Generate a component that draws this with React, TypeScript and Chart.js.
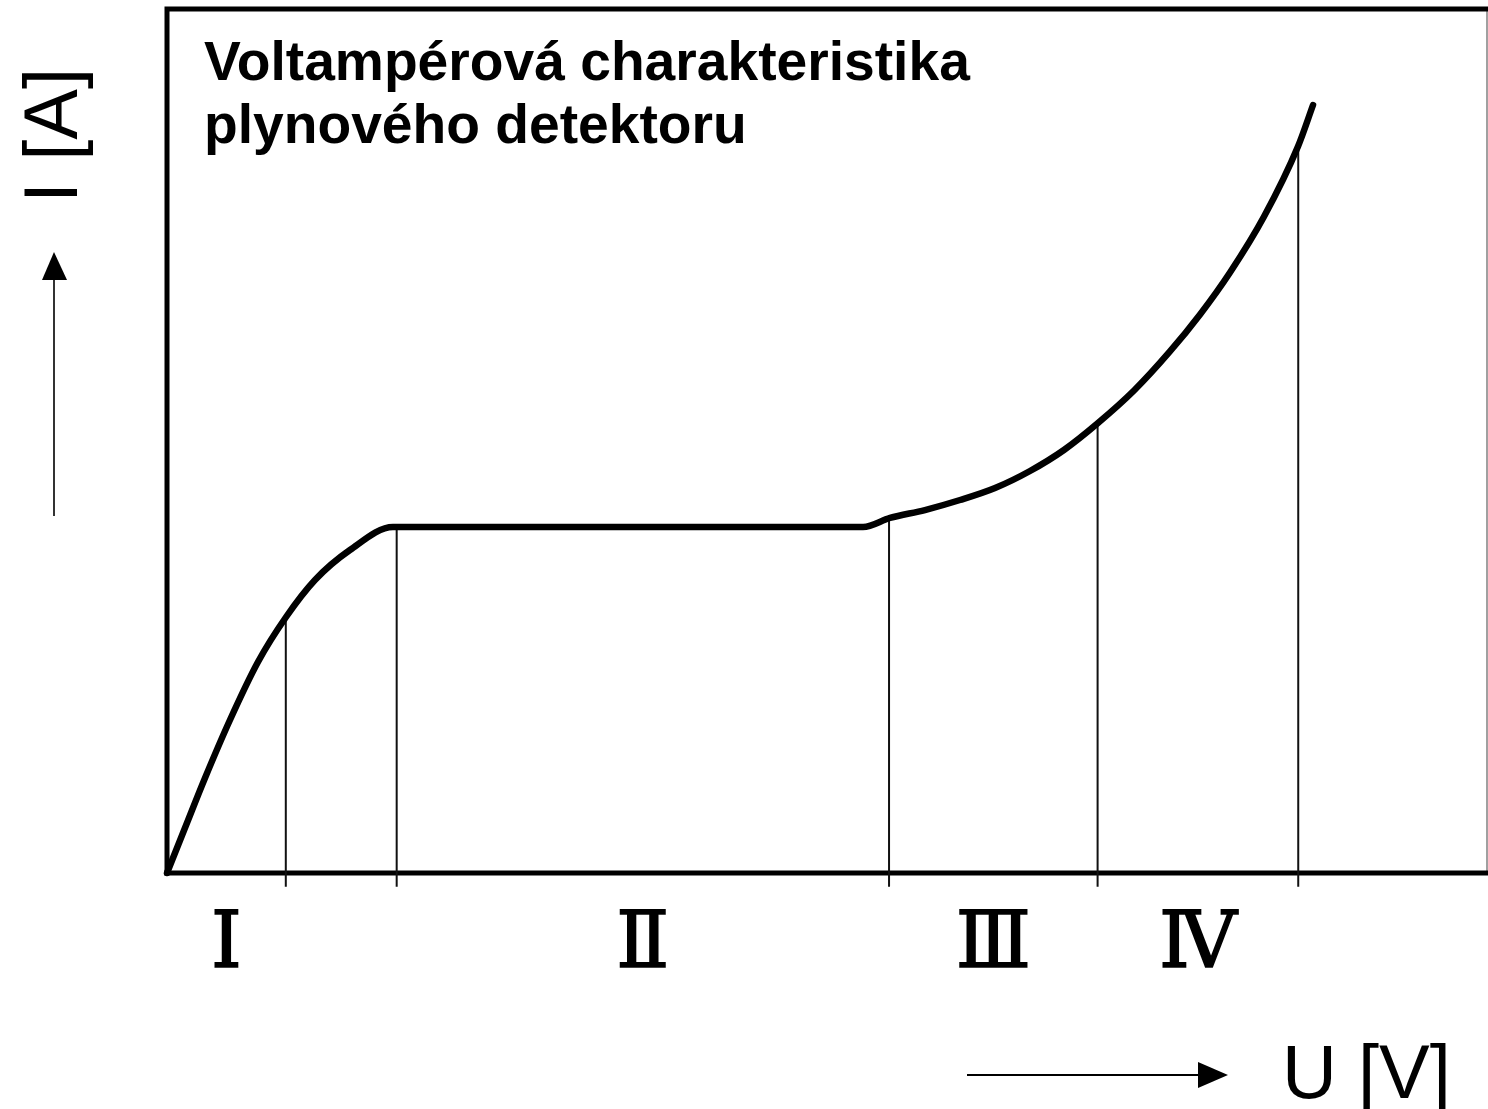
import React, { useEffect, useRef } from "react";
import { Chart, registerables } from "chart.js";

Chart.register(...registerables);

// Characteristic curve (arbitrary units: U 0..100, I 0..100)
const curveU = [0, 1.36, 2.88, 4.77, 6.89, 9.02, 11.21, 13.86, 17.12, 52.73, 54.77, 57.42, 60.08, 62.73, 65.38, 67.95, 70.53, 73.26, 75.98, 78.26, 80.53, 83.11, 85.68, 86.82];
const curveI = [0, 5.21, 11.0, 17.71, 24.42, 29.63, 33.91, 37.38, 40.05, 40.05, 41.09, 42.01, 43.17, 44.56, 46.53, 48.96, 52.08, 55.84, 60.36, 64.64, 69.5, 75.98, 84.09, 88.89];

// Region boundaries (vertical lines)
const boundaryU = [9.0, 17.4, 54.7, 70.5, 85.7];
const boundaryTopI = [29.6, 40.0, 41.1, 52.0, 84.0];
const boundaryBottomI = -1.6;

// Region labels
const regionNames = ["Ⅰ", "Ⅱ", "Ⅲ", "Ⅳ"];
const regionStart = [0, 17.4, 54.7, 70.5];
const regionEnd = [9.0, 54.7, 70.5, 85.7];

const titleLines = ["Voltampérová charakteristika", "plynového detektoru"];
const xAxisLabel = "U [V]";
const yAxisLabel = "I [A]";

const overlayPlugin = {
  id: "overlay",
  beforeDatasetsDraw(chart: any) {
    const { ctx, chartArea: a } = chart;
    ctx.save();
    ctx.strokeStyle = "#a0a0a0";
    ctx.lineWidth = 2;
    ctx.beginPath();
    ctx.moveTo(a.right, a.top);
    ctx.lineTo(a.right, a.bottom);
    ctx.stroke();
    ctx.strokeStyle = "#000";
    ctx.lineWidth = 5;
    ctx.lineCap = "square";
    ctx.beginPath();
    ctx.moveTo(a.left, a.bottom);
    ctx.lineTo(a.left, a.top);
    ctx.lineTo(a.right, a.top);
    ctx.stroke();
    ctx.beginPath();
    ctx.moveTo(a.left, a.bottom);
    ctx.lineTo(a.right, a.bottom);
    ctx.stroke();
    ctx.restore();
  },
  afterDraw(chart: any) {
    const { ctx, scales } = chart;
    const xs = scales.x;
    ctx.save();
    ctx.fillStyle = "#000";
    // title
    ctx.font = "bold 55.2px 'Liberation Sans', Arial, sans-serif";
    ctx.textAlign = "left";
    ctx.textBaseline = "alphabetic";
    ctx.fillText(titleLines[0], 204, 80);
    ctx.fillText(titleLines[1], 204, 143);

    // region labels
    ctx.font = "78px 'DejaVu Serif', 'Liberation Serif', serif";
    ctx.textAlign = "center";
    ctx.strokeStyle = "#000";
    ctx.lineWidth = 1.6;
    for (let i = 0; i < regionNames.length; i++) {
      const cx = xs.getPixelForValue((regionStart[i] + regionEnd[i]) / 2);
      ctx.fillText(regionNames[i], cx, 967);
      ctx.strokeText(regionNames[i], cx, 967);
    }

    // x axis arrow + label
    ctx.lineWidth = 2;
    ctx.beginPath();
    ctx.moveTo(967, 1075);
    ctx.lineTo(1205, 1075);
    ctx.stroke();
    ctx.beginPath();
    ctx.moveTo(1228, 1075);
    ctx.lineTo(1198, 1062);
    ctx.lineTo(1198, 1088);
    ctx.closePath();
    ctx.fill();
    ctx.font = "76px 'Liberation Sans', Arial, sans-serif";
    ctx.textAlign = "left";
    ctx.fillText(xAxisLabel, 1282, 1098);

    // y axis arrow + label
    ctx.strokeStyle = "#333";
    ctx.beginPath();
    ctx.moveTo(54, 516);
    ctx.lineTo(54, 270);
    ctx.stroke();
    ctx.beginPath();
    ctx.moveTo(54, 252);
    ctx.lineTo(42, 280);
    ctx.lineTo(67, 280);
    ctx.closePath();
    ctx.fill();
    ctx.save();
    ctx.translate(77, 203);
    ctx.rotate(-Math.PI / 2);
    ctx.font = "76px 'Liberation Sans', Arial, sans-serif";
    ctx.textAlign = "left";
    ctx.fillText(yAxisLabel, 0, 0);
    ctx.restore();
    ctx.restore();
  },
};

export default function App() {
  const ref = useRef<HTMLCanvasElement | null>(null);
  useEffect(() => {
    if (!ref.current) return;
    const boundarySets = boundaryU.map((u, i) => ({
      data: [
        { x: u, y: boundaryTopI[i] },
        { x: u, y: boundaryBottomI },
      ],
      showLine: true,
      borderColor: "#111",
      borderWidth: 2,
      pointRadius: 0,
      clip: false as any,
      order: 2,
    }));
    const chart = new Chart(ref.current, {
      type: "scatter",
      data: {
        datasets: [
          {
            data: curveU.map((u, i) => ({ x: u, y: curveI[i] })),
            showLine: true,
            borderColor: "#000",
            borderWidth: 6.5,
            pointRadius: 0,
            cubicInterpolationMode: "monotone",
            borderCapStyle: "round",
            borderJoinStyle: "round",
            clip: false as any,
            order: 1,
          } as any,
          ...boundarySets,
        ],
      },
      options: {
        animation: false,
        responsive: false,
        devicePixelRatio: 1,
        layout: { padding: { left: 167, right: 1, top: 9, bottom: 236 } },
        plugins: { legend: { display: false }, tooltip: { enabled: false }, title: { display: false } },
        scales: {
          x: { type: "linear", min: 0, max: 100, display: false },
          y: { type: "linear", min: 0, max: 100, display: false },
        },
      },
      plugins: [overlayPlugin],
    });
    return () => chart.destroy();
  }, []);
  return (
    <div style={{ position: "absolute", left: 0, top: 0, width: 1488, height: 1109, background: "#fff" }}>
      <canvas ref={ref} width={1488} height={1109} style={{ width: 1488, height: 1109, display: "block" }} />
    </div>
  );
}
